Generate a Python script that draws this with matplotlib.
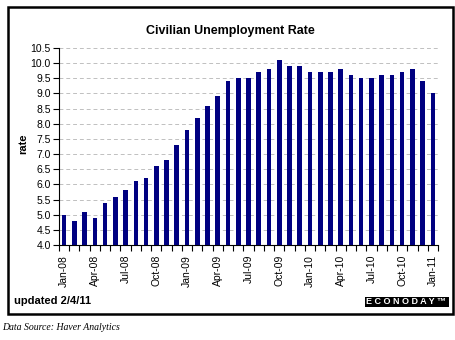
import matplotlib
matplotlib.use('Agg')
import matplotlib.pyplot as plt
from matplotlib.patches import Rectangle
import numpy as np

plt.rcParams['font.family'] = ['Liberation Sans', 'DejaVu Sans']

months = ["Jan-08", "Feb-08", "Mar-08", "Apr-08", "May-08", "Jun-08",
          "Jul-08", "Aug-08", "Sep-08", "Oct-08", "Nov-08", "Dec-08",
          "Jan-09", "Feb-09", "Mar-09", "Apr-09", "May-09", "Jun-09",
          "Jul-09", "Aug-09", "Sep-09", "Oct-09", "Nov-09", "Dec-09",
          "Jan-10", "Feb-10", "Mar-10", "Apr-10", "May-10", "Jun-10",
          "Jul-10", "Aug-10", "Sep-10", "Oct-10", "Nov-10", "Dec-10",
          "Jan-11"]
rate = [5.0, 4.8, 5.1, 4.9, 5.4, 5.6, 5.8, 6.1, 6.2, 6.6, 6.8, 7.3,
        7.8, 8.2, 8.6, 8.9, 9.4, 9.5, 9.5, 9.7, 9.8, 10.1, 9.9, 9.9,
        9.7, 9.7, 9.7, 9.8, 9.6, 9.5, 9.5, 9.6, 9.6, 9.7, 9.8, 9.4,
        9.0]
yticks = np.arange(4.0, 10.51, 0.5)

W, H = 456, 340
fig = plt.figure(figsize=(W / 100, H / 100), dpi=100)
fig.patch.set_facecolor('white')

# outer frame
fig.patches.append(Rectangle((8 / W, 1 - 314 / H), 445 / W, 307 / H,
                             transform=fig.transFigure, fill=False,
                             edgecolor='black', linewidth=1.8))

ax = fig.add_axes([59 / W, 1 - 245 / H, 379 / W, 197 / H])
x = np.arange(len(rate))
ax.bar(x, np.array(rate) - 4.0, bottom=4.0, width=0.45, color='#000080',
       zorder=3)

ax.set_xlim(-0.5, len(rate) - 0.5)
ax.set_ylim(4.0, 10.5)
ax.set_yticks(yticks)
ax.set_yticklabels([f"{v:.1f}" for v in yticks])
ax.yaxis.grid(True, linestyle=(0, (4, 3)), color='#c0c0c0', linewidth=0.7,
              zorder=0)

ax.set_xticks(x[::3])
ax.set_xticklabels(months[::3], rotation=90)
ax.set_xticks(np.arange(-0.5, len(rate), 1), minor=True)
ax.tick_params(axis='x', which='major', length=0, pad=7, labelsize=7.5)
ax.tick_params(axis='x', which='minor', length=4, width=0.8,
               direction='out')
ax.tick_params(axis='y', length=4, width=0.8, labelsize=7.5, pad=2)

for side in ('top', 'right'):
    ax.spines[side].set_visible(False)
for side in ('left', 'bottom'):
    ax.spines[side].set_linewidth(0.8)

fig.text(230 / W, 1 - 31 / H, "Civilian Unemployment Rate",
         ha='center', va='center', fontsize=9, fontweight='bold')
fig.text(23 / W, 1 - 144 / H, "rate", rotation=90, ha='center',
         va='center', fontsize=8, fontweight='bold')
fig.text(14 / W, 1 - 301 / H, "updated 2/4/11", ha='left', va='center',
         fontsize=8, fontweight='bold')

fig.patches.append(Rectangle((365 / W, 1 - 307 / H), 84 / W, 10 / H,
                             transform=fig.transFigure, facecolor='black',
                             edgecolor='none'))
fig.text(406 / W, 1 - 302 / H, "E C O N O D A Y \u2122", ha='center',
         va='center', fontsize=6.5, fontweight='bold', color='white')

fig.text(2 / W, 1 - 328 / H, "Data Source: Haver Analytics", ha='left',
         va='center', fontsize=7, style='italic',
         family=['Liberation Serif', 'DejaVu Serif'])

fig.savefig("out.png", dpi=100)
plt.close(fig)
